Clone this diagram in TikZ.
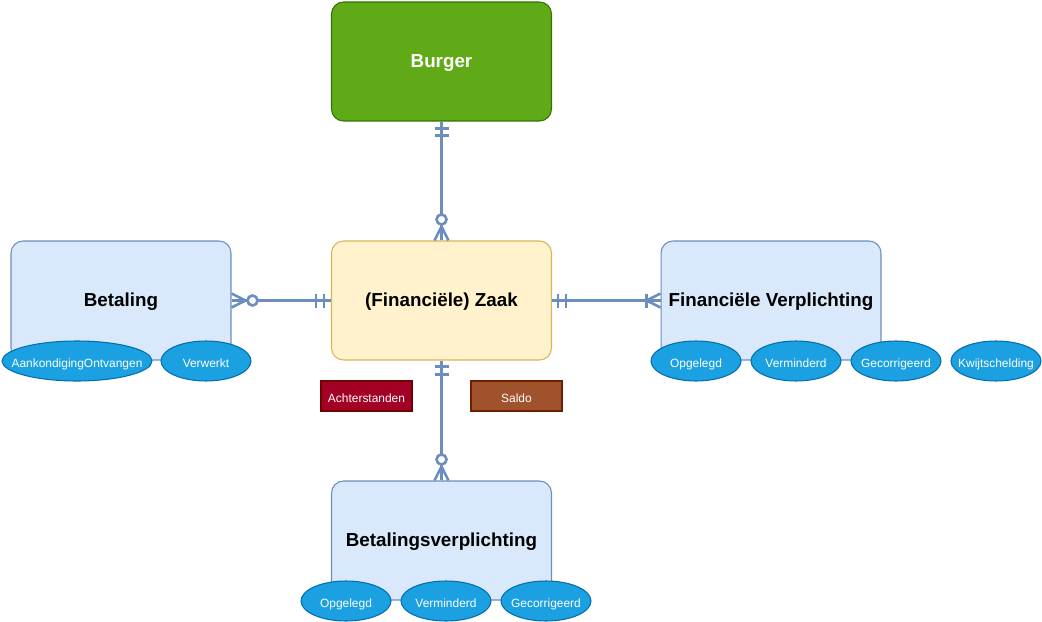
\documentclass[tikz,border=0pt]{standalone}
\usepackage{fontspec}
\setmainfont{Liberation Sans}
\usetikzlibrary{shapes.geometric,calc}

\definecolor{greenfill}{HTML}{60A917}
\definecolor{greenline}{HTML}{2D7600}
\definecolor{yellowfill}{HTML}{FFF2CC}
\definecolor{yellowline}{HTML}{D6B656}
\definecolor{bluefill}{HTML}{DAE8FC}
\definecolor{blueline}{HTML}{6C8EBF}
\definecolor{statefill}{HTML}{1BA1E2}
\definecolor{stateline}{HTML}{006EAF}
\definecolor{redfill}{HTML}{A20025}
\definecolor{redline}{HTML}{6F0000}
\definecolor{brownfill}{HTML}{A0522D}
\definecolor{brownline}{HTML}{6D1F00}

\newcommand{\stlabel}[1]{\makebox[0pt]{#1}}

\begin{document}
\begin{tikzpicture}[x=0.02cm,y=-0.02cm,
    entity/.style={rectangle,rounded corners=0.24cm,draw=blueline,fill=bluefill,line width=0.6pt,
                   minimum width=4.4cm,minimum height=2.38cm,text height=0.72em,text depth=0pt,
                   font=\fontsize{10.7}{13}\selectfont\bfseries},
    state/.style={ellipse,draw=stateline,fill=statefill,text=white,line width=0.6pt,inner sep=0pt,
                  minimum width=1.8cm,minimum height=0.8cm,text height=0.72em,text depth=0pt,
                  font=\fontsize{6.8}{8}\selectfont},
    tag/.style={rectangle,text=white,line width=1pt,minimum width=1.82cm,minimum height=0.6cm,
                text height=0.72em,text depth=0pt,font=\fontsize{6.8}{8}\selectfont},
    conn/.style={draw=blueline,line width=1.5pt}]
\useasboundingbox (0,0) rectangle (1042,622);

\node[entity,fill=greenfill,draw=greenline,text=white] (burger) at (441.5,61.5) {Burger};
\node[entity,fill=yellowfill,draw=yellowline] (zaak) at (441.5,300.5) {(Financiële) Zaak};
\node[entity] (betaling) at (121,300.5) {Betaling};
\node[entity] (finverpl) at (771,300.5) {Financiële Verplichting};
\node[entity] (betverpl) at (441.5,540.5) {Betalingsverplichting};

\begin{scope}[every node/.style={state}]
    \node[minimum width=3cm] (aankondiging) at (77,361) {\stlabel{AankondigingOntvangen}};
    \node (verwerkt) at (206,361) {\stlabel{Verwerkt}};

    \node (fvopgelegd) at (696,361) {\stlabel{Opgelegd}};
    \node (fvverminderd) at (796,361) {\stlabel{Verminderd}};
    \node (fvgecorrigeerd) at (896,361) {\stlabel{Gecorrigeerd}};
    \node (kwijtschelding) at (996,361) {\stlabel{Kwijtschelding}};

    \node (bvopgelegd) at (346,601) {\stlabel{Opgelegd}};
    \node (bvverminderd) at (446,601) {\stlabel{Verminderd}};
    \node (bvgecorrigeerd) at (546,601) {\stlabel{Gecorrigeerd}};
\end{scope}

\node[tag,fill=redfill,draw=redline] (achterstanden) at (366.5,396) {Achterstanden};
\node[tag,fill=brownfill,draw=brownline] (saldo) at (516.5,396) {Saldo};

% Burger -- Zaak
\draw[conn] (burger.south) -- (zaak.north);
\draw[conn] ($(burger.south)+(-7,7)$) -- ++(14,0);
\draw[conn] ($(burger.south)+(-7,14)$) -- ++(14,0);
\draw[conn] ($(zaak.north)+(-7,0)$) -- ($(zaak.north)+(0,-14)$) -- ($(zaak.north)+(7,0)$);
\draw[conn,fill=white] ($(zaak.north)+(0,-21)$) circle (5);

% Zaak -- Betalingsverplichting
\draw[conn] (zaak.south) -- (betverpl.north);
\draw[conn] ($(zaak.south)+(-7,6)$) -- ++(14,0);
\draw[conn] ($(zaak.south)+(-7,14)$) -- ++(14,0);
\draw[conn] ($(betverpl.north)+(-7,0)$) -- ($(betverpl.north)+(0,-14)$) -- ($(betverpl.north)+(7,0)$);
\draw[conn,fill=white] ($(betverpl.north)+(0,-21)$) circle (5);

% Betaling -- Zaak
\draw[conn] (betaling.east) -- (zaak.west);
\draw[conn] ($(zaak.west)+(-7,-7)$) -- ++(0,14);
\draw[conn] ($(zaak.west)+(-15,-7)$) -- ++(0,14);
\draw[conn] ($(betaling.east)+(0,-7)$) -- ($(betaling.east)+(14,0)$) -- ($(betaling.east)+(0,7)$);
\draw[conn,fill=white] ($(betaling.east)+(21,0)$) circle (5);

% Zaak -- Financiele Verplichting
\draw[conn] (zaak.east) -- (finverpl.west);
\draw[conn] ($(zaak.east)+(6,-7)$) -- ++(0,14);
\draw[conn] ($(zaak.east)+(14,-7)$) -- ++(0,14);
\draw[conn] ($(finverpl.west)+(-14,-7)$) -- ++(0,14);
\draw[conn] ($(finverpl.west)+(0,-7)$) -- ($(finverpl.west)+(-14,0)$) -- ($(finverpl.west)+(0,7)$);
\end{tikzpicture}
\end{document}
